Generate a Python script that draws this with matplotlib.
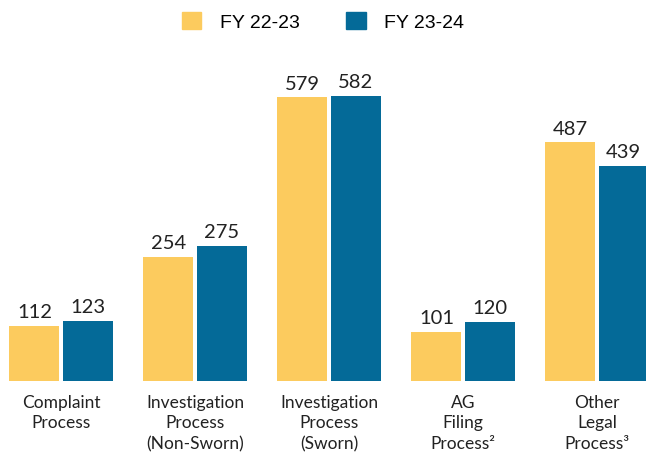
import matplotlib
matplotlib.use("Agg")
import matplotlib.pyplot as plt
from matplotlib.patches import Patch
import numpy as np

categories = ["Complaint\nProcess", "Investigation\nProcess\n(Non-Sworn)",
              "Investigation\nProcess\n(Sworn)", "AG\nFiling\nProcess\u00b2",
              "Other\nLegal\nProcess\u00b3"]
fy2223 = [112, 254, 579, 101, 487]
fy2324 = [123, 275, 582, 120, 439]
series_names = ["FY 22-23", "FY 23-24"]

YELLOW = "#FCCB5E"
BLUE = "#046A98"

fig = plt.figure(figsize=(6.46, 4.6), dpi=100)
ax = fig.add_axes([0, 78 / 460, 1, 382 / 460])

x = np.arange(len(categories))
w = 0.373
off = 0.198
b1 = ax.bar(x - off, fy2223, width=w, color=YELLOW)
b2 = ax.bar(x + off, fy2324, width=w, color=BLUE)

for bars in (b1, b2):
    for rect in bars:
        ax.text(rect.get_x() + rect.get_width() / 2, rect.get_height() + 12,
                str(int(rect.get_height())), ha="center", va="bottom",
                fontsize=14.5, family="Lato", color="#222222")

for xi, lab in zip(x, categories):
    ax.text(xi, -26, lab, ha="center", va="top", fontsize=12.5,
            family="Lato", color="#222222", linespacing=1.35)

ax.set_xlim(-61 / 134, (646 - 61) / 134)
ax.set_ylim(0, 780)
ax.axis("off")

handles = [Patch(color=YELLOW), Patch(color=BLUE)]
fig.legend(handles, series_names, loc="upper center", bbox_to_anchor=(0.5, 1.01),
           ncol=2, frameon=False, prop={"family": "Liberation Sans", "size": 14},
           handlelength=1.0, handleheight=1.0, columnspacing=2.4, handletextpad=0.95)

fig.savefig("out.png", dpi=100)
